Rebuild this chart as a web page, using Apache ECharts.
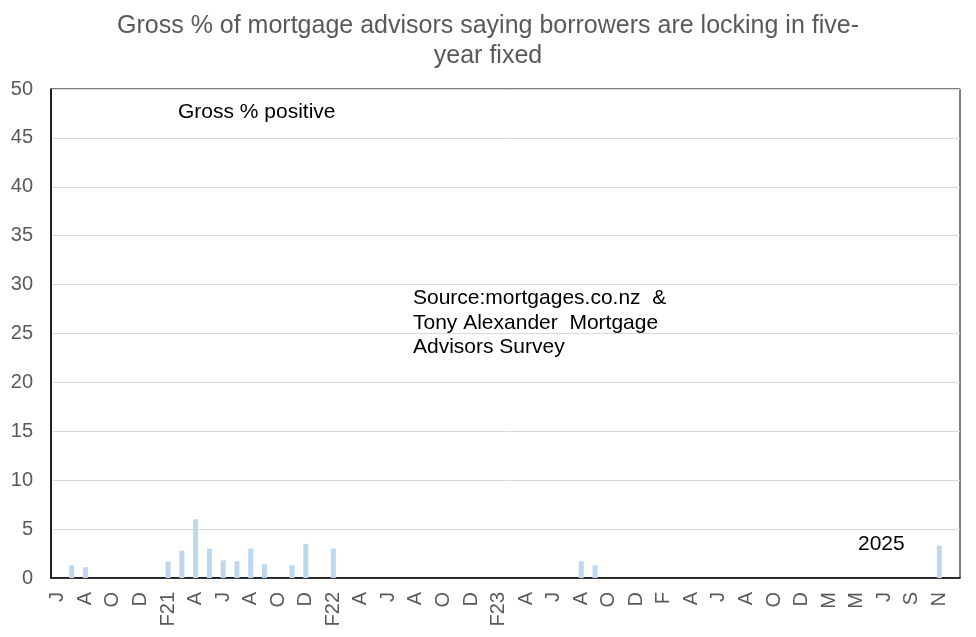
<!DOCTYPE html>
<html>
<head>
    <meta charset="utf-8">
    <title>five-year fixed</title>
    <script src="https://cdn.jsdelivr.net/npm/echarts@6/dist/echarts.min.js"></script>
    <style>
        html, body { margin: 0; padding: 0; background: #fff; }
        #main { width: 976px; height: 637px; }
    </style>
</head>
<body>
<div id="main"></div>
<script type="text/javascript">

// months Jun 2020 .. Dec 2025 (Jan 2025 not surveyed), label shown every 2nd month
var months = ['J','J','A','S','O','N','D','J','F21','M','A','M',
              'J','J','A','S','O','N','D','J','F22','M','A','M',
              'J','J','A','S','O','N','D','J','F23','M','A','M',
              'J','J','A','S','O','N','D','J','F','M','A','M',
              'J','J','A','S','O','N','D','F','M','A','M',
              'J','J','A','S','O','N','D'];

// gross % positive
var grossPositive = [0,1.3,1.1,0,0,0,0,0,1.7,2.8,6.0,3.0,
                     1.8,1.7,3.0,1.4,0,1.3,3.5,0,3.0,0,0,0,
                     0,0,0,0,0,0,0,0,0,0,0,0,
                     0,0,1.7,1.3,0,0,0,0,0,0,0,0,
                     0,0,0,0,0,0,0,0,0,0,0,
                     0,0,0,0,0,3.3,0];

var yTicks = {min: 0, max: 50, step: 5};

var myChart = echarts.init(document.getElementById('main'));

var font = 'Liberation Sans, Arial, sans-serif';

myChart.setOption({
    animation: false,
    title: {
        text: 'Gross % of mortgage advisors saying borrowers are locking in five-\nyear fixed',
        left: 'center',
        top: 6,
        textStyle: {
            fontFamily: font,
            fontSize: 25,
            fontWeight: 'normal',
            color: '#595959',
            lineHeight: 30
        }
    },
    grid: {
        left: 51,
        right: 16,
        top: 89,
        bottom: 59,
        show: true,
        borderColor: '#000',
        borderWidth: 1
    },
    xAxis: {
        type: 'category',
        data: months,
        axisLine: { lineStyle: { color: '#000', width: 1.5 } },
        axisTick: { show: false },
        axisLabel: {
            interval: 1,
            rotate: 90,
            margin: 14,
            fontFamily: font,
            fontSize: 20,
            color: '#595959'
        }
    },
    yAxis: {
        type: 'value',
        min: yTicks.min,
        max: yTicks.max,
        interval: yTicks.step,
        axisLine: { show: true, lineStyle: { color: '#000', width: 1.5 } },
        axisTick: { show: false },
        splitLine: { lineStyle: { color: '#d9d9d9' } },
        axisLabel: {
            margin: 18,
            fontFamily: font,
            fontSize: 20,
            color: '#595959'
        }
    },
    series: [{
        name: 'Gross % positive',
        type: 'bar',
        data: grossPositive,
        barWidth: 5,
        itemStyle: { color: '#bdd7ee' }
    }],
    graphic: [
        { type: 'text', left: 178, top: 102,
          style: { text: 'Gross % positive', font: '21px ' + font, fill: '#000' } },
        { type: 'text', left: 413, top: 286,
          style: { text: 'Source:mortgages.co.nz  &\nTony Alexander  Mortgage\nAdvisors Survey',
                   font: '21px ' + font, fill: '#000', lineHeight: 24.5 } },
        { type: 'text', left: 858, top: 534,
          style: { text: '2025', font: '21px ' + font, fill: '#000' } }
    ]
});

</script>
</body>
</html>
